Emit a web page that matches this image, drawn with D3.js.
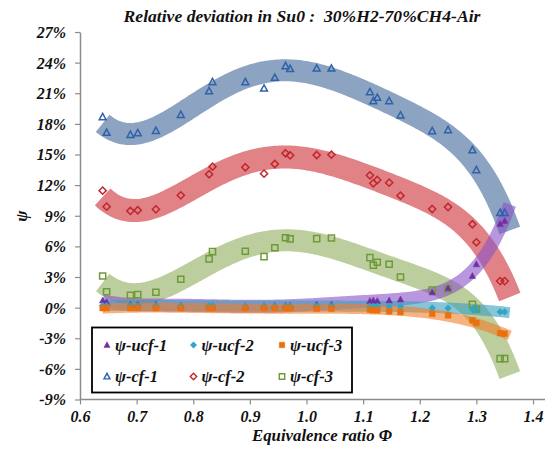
<!DOCTYPE html>
<html><head><meta charset="utf-8">
<script src="https://cdn.jsdelivr.net/npm/d3@7"></script>
<style>
body{margin:0;background:#fff;}
text{font-family:"Liberation Serif",serif;font-weight:bold;font-style:italic;fill:#111;}
</style></head>
<body><svg id="c" width="558" height="452"></svg>
<script>
const title = "Relative deviation in Su0 :  30%H2-70%CH4-Air";
const xTitle = "Equivalence ratio \u03A6";
const yTitle = "\u03C8";
const xTicks = [0.6,0.7,0.8,0.9,1.0,1.1,1.2,1.3,1.4];
const yTicks = [-9,-6,-3,0,3,6,9,12,15,18,21,24,27];
const seriesNames = ["\u03C8-ucf-1","\u03C8-ucf-2","\u03C8-ucf-3","\u03C8-cf-1","\u03C8-cf-2","\u03C8-cf-3"];
const phi  = [0.640,0.647,0.689,0.702,0.734,0.778,0.828,0.834,0.892,0.925,0.944,0.963,0.971,1.018,1.044,1.112,1.118,1.125,1.146,1.166,1.222,1.250,1.293,1.300,1.342,1.350];
const ucf1 = [0.7,0.55,0.3,0.3,0.3,0.2,0.15,0.15,0.15,0.15,0.2,0.2,0.2,0.3,0.3,0.65,0.7,0.65,0.7,0.8,1.5,1.9,3.1,4.25,8.2,8.5];
const ucf2 = [0.2,0.2,0.2,0.2,0.2,0.2,0.2,0.2,0.15,0.15,0.15,0.15,0.15,0.15,0.15,0.13,0.13,0.13,0.13,0.13,-0.03,-0.05,-0.15,-0.2,-0.42,-0.42];
const ucf3 = [-0.05,-0.05,-0.05,-0.05,-0.05,-0.05,-0.05,-0.05,-0.05,-0.05,-0.05,-0.05,-0.05,-0.1,-0.1,-0.2,-0.25,-0.26,-0.36,-0.43,-0.6,-0.75,-1.24,-1.5,-2.5,-2.55];
const cf1  = [18.67,17.14,16.94,17.1,17.33,18.9,21.22,22.1,22.1,21.48,22.53,23.67,23.4,23.44,23.44,21.12,20.24,20.57,20.24,18.84,17.3,17.4,15.44,13.48,9.3,9.3];
const cf2  = [11.46,9.89,9.47,9.54,9.63,11.0,13.06,13.81,13.75,13.12,14.07,15.12,14.92,14.95,14.98,12.96,12.18,12.5,12.24,10.97,9.66,9.86,8.17,6.4,2.6,2.6];
const cf3  = [3.1,1.56,1.21,1.27,1.5,2.78,4.77,5.48,5.52,5.0,5.87,6.85,6.73,6.76,6.82,4.9,4.15,4.44,4.25,3.0,1.73,1.83,0.33,-0.16,-5.0,-5.0];
const seriesValues = [ucf1,ucf2,ucf3,cf1,cf2,cf3];
const trendOrder = [6,4,4,6,6,6];
const markerColors = ["#7030a0","#31a5c4","#e8700f","#2f62a8","#c0282d","#6f9a3a"];
const bandColors = ["#8a52c8","#3b9fbf","#f07f2a","#3f6697","#cc2e35","#90ad5c"];
const markerShapes = ["triangle","diamond","square","triangle","diamond","square"];
const markerFilled = [true,true,true,false,false,false];

const svg = d3.select("#c");
const x = d3.scaleLinear().domain([0.6,1.4]).range([80,533]);
const y = d3.scaleLinear().domain([-9,27]).range([399.5,32]);

// title
svg.append("text").attr("x",302).attr("y",22).attr("text-anchor","middle")
  .style("font-size","17.6px").style("white-space","pre").text(title);

// axes
const xAxis = d3.axisBottom(x).tickValues(xTicks).tickFormat(d3.format(".1f")).tickSize(5).tickSizeOuter(0);
const gx = svg.append("g").attr("transform",`translate(0,${y(-9)})`).call(xAxis);
gx.select(".domain").attr("d",`M80,0H545`);
const yAxis = d3.axisLeft(y).tickValues(yTicks).tickFormat(d=>d+"%").tickSize(5).tickSizeOuter(0);
const gy = svg.append("g").attr("transform",`translate(80,0)`).call(yAxis);
[gx,gy].forEach(g=>{
  g.select(".domain").attr("stroke","#8c8c8c").attr("stroke-width",1.5);
  g.selectAll(".tick line").attr("stroke","#8c8c8c").attr("stroke-width",1.2);
  g.selectAll(".tick text").style("font-size","16px").attr("fill","#111");
});
gx.selectAll(".tick text").attr("y",0).attr("dy","22.5");
gy.selectAll(".tick text").attr("dx","-6").attr("dy","0.34em");

svg.append("text").attr("x",322).attr("y",441).attr("text-anchor","middle").style("font-size","16.8px").text(xTitle);
svg.append("text").attr("transform","translate(27,216) rotate(-90)").attr("text-anchor","middle").style("font-size","17px").text(yTitle);

// polynomial least squares
function polyfit(xs, ys, order){
  const n = order+1;
  const A = Array.from({length:n},()=>new Array(n+1).fill(0));
  const t = xs.map(v=>(v-1.0)/0.4);
  for(let i=0;i<n;i++){
    for(let j=0;j<n;j++){ A[i][j] = d3.sum(t,v=>Math.pow(v,i+j)); }
    A[i][n] = d3.sum(t,(v,k)=>Math.pow(v,i)*ys[k]);
  }
  for(let c=0;c<n;c++){
    let p=c; for(let r=c+1;r<n;r++) if(Math.abs(A[r][c])>Math.abs(A[p][c])) p=r;
    [A[c],A[p]]=[A[p],A[c]];
    for(let r=0;r<n;r++){ if(r===c) continue; const f=A[r][c]/A[c][c]; for(let k=c;k<=n;k++) A[r][k]-=f*A[c][k]; }
  }
  const coef = A.map((row,i)=>row[n]/row[i]);
  return v=>{const tt=(v-1.0)/0.4; return coef.reduce((s,cc,i)=>s+cc*Math.pow(tt,i),0);};
}

const bandWidth = [13,11,10,22,23,22];
const x0 = d3.min(phi), x1 = d3.max(phi)+0.009;
const samples = d3.range(0,201).map(i=>x0+(x1-x0)*i/200);
const line = d3.line().x(d=>x(d[0])).y(d=>y(d[1]));
const bandOrder = [3,4,5,0,1,2];
bandOrder.forEach(s=>{
  const f = polyfit(phi, seriesValues[s], trendOrder[s]);
  svg.append("path").datum(samples.map(v=>[v,f(v)])).attr("d",line)
    .attr("fill","none").attr("stroke",bandColors[s]).attr("stroke-opacity",0.6)
    .attr("stroke-width",bandWidth[s]).attr("stroke-linecap","butt");
});

function markerPath(shape, r){
  if(shape==="triangle") return `M0,${-r}L${r*0.95},${r*0.75}L${-r*0.95},${r*0.75}Z`;
  if(shape==="diamond") return `M0,${-r}L${r},0L0,${r}L${-r},0Z`;
  return `M${-r*0.85},${-r*0.85}H${r*0.85}V${r*0.85}H${-r*0.85}Z`;
}
const drawOrder = [3,4,5,0,1,2];
drawOrder.forEach(s=>{
  svg.append("g").selectAll("path").data(phi.map((p,i)=>[p,seriesValues[s][i]])).join("path")
    .attr("transform",d=>`translate(${x(d[0])},${y(d[1])})`)
    .attr("d",markerPath(markerShapes[s], markerFilled[s]?3.4:3.6))
    .attr("fill",markerFilled[s]?markerColors[s]:"none")
    .attr("stroke",markerColors[s]).attr("stroke-width",markerFilled[s]?0.5:1.5);
});

// legend
const lg = svg.append("g");
lg.append("rect").attr("x",92).attr("y",327.5).attr("width",260).attr("height",65)
  .attr("fill","#fff").attr("stroke","#000").attr("stroke-width",1.8);
const colX = [107,193.5,282];
const rowY = [345,376.5];
seriesNames.forEach((name,i)=>{
  const cx = colX[i%3], cy = rowY[Math.floor(i/3)];
  lg.append("path").attr("transform",`translate(${cx},${cy})`)
    .attr("d",markerPath(markerShapes[i],3.2))
    .attr("fill",markerFilled[i]?markerColors[i]:"none")
    .attr("stroke",markerColors[i]).attr("stroke-width",markerFilled[i]?0.5:1.4);
  lg.append("text").attr("x",cx+8).attr("y",cy+5.5).style("font-size","16.5px").text(name);
});
</script></body></html>
